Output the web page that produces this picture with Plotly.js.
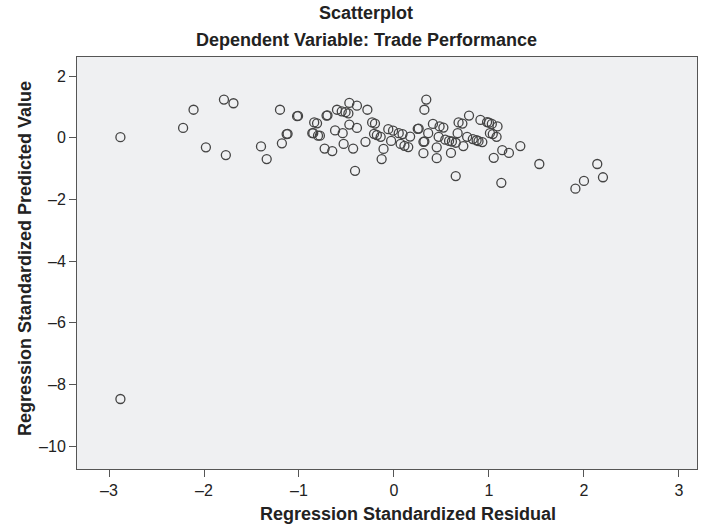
<!DOCTYPE html>
<html>
<head>
<meta charset="utf-8">
<script src="https://cdn.plot.ly/plotly-3.0.1.min.js"></script>
<style>html,body{margin:0;padding:0;background:#fff;}#chart{width:703px;height:526px;}</style>
</head>
<body>
<div id="chart"></div>
<script>
// Regression Standardized Residual (x) and Regression Standardized Predicted Value (y)
const residual = [
  -2.88, -2.22, -2.11, -1.98, -1.79, -1.69, -1.77, -1.40, -1.34, -1.20, -1.18, -1.13, -1.12,
  -1.02, -1.01, -0.85, -0.84, -0.81, -0.80, -0.71, -0.70, -0.86, -0.78, -0.73, -0.65, -0.62,
  -0.54, -0.53, -0.60, -0.55, -0.51, -0.48, -0.47, -0.39, -0.47, -0.39, -0.43, -0.41, -0.30,
  -0.28, -0.23, -0.20, -0.21, -0.18, -0.14, -0.11, -0.13, -0.06, -0.01, -0.03, 0.05, 0.09,
  0.07, 0.11, 0.15, 0.17, 0.25, 0.26, 0.31, 0.32, 0.31, 0.34, 0.32, 0.36, 0.41, 0.45, 0.45,
  0.47, 0.48, 0.52, 0.54, 0.58, 0.61, 0.65, 0.60, 0.65, 0.67, 0.68, 0.72, 0.73, 0.77, 0.79,
  0.83, 0.87, 0.89, 0.93, 0.91, 0.98, 1.00, 1.03, 1.09, 1.01, 1.04, 1.08, 1.05, 1.13, 1.14,
  1.21, 1.33, 1.53, 2.14, 2.20, 2.00, 1.91, -2.88
];
const predicted = [
  0.02, 0.32, 0.91, -0.31, 1.24, 1.12, -0.56, -0.28, -0.69, 0.91, -0.18, 0.12, 0.13,
  0.70, 0.71, 0.15, 0.50, 0.47, 0.07, 0.72, 0.73, 0.15, 0.07, -0.35, -0.43, 0.24,
  0.15, -0.20, 0.91, 0.86, 0.83, 0.79, 1.13, 1.04, 0.43, 0.32, -0.35, -1.07, -0.13,
  0.91, 0.50, 0.46, 0.13, 0.09, 0.03, -0.36, -0.69, 0.28, 0.23, -0.10, 0.15, 0.12,
  -0.20, -0.26, -0.30, 0.04, 0.29, 0.30, -0.13, -0.12, -0.50, 1.24, 0.91, 0.15, 0.45, -0.31, -0.66,
  0.03, 0.37, 0.33, -0.06, -0.10, -0.12, -0.16, -0.49, -1.24, 0.15, 0.50, 0.46, -0.27, 0.03, 0.72,
  -0.04, -0.08, -0.11, -0.14, 0.58, 0.51, 0.49, 0.45, 0.37, 0.15, 0.12, 0.03, -0.65, -1.46, -0.40,
  -0.49, -0.27, -0.85, -0.85, -1.28, -1.40, -1.65, -8.47
];
const xTicks = [-3, -2, -1, 0, 1, 2, 3];
const yTicks = [2, 0, -2, -4, -6, -8, -10];
const titleLines = ['Scatterplot', 'Dependent Variable: Trade Performance'];
const xTitle = 'Regression Standardized Residual';
const yTitle = 'Regression Standardized Predicted Value';

const FONT = '"Liberation Sans", Arial, sans-serif';
const axisCol = '#555555';
const txtCol = '#222222';
const fmt = v => v < 0 ? '\u2013' + Math.abs(v) : String(v);

Plotly.newPlot('chart', [{
  type: 'scatter',
  mode: 'markers',
  x: residual,
  y: predicted,
  marker: {symbol: 'circle-open', size: 9, color: '#444444', line: {width: 1.3, color: '#444444'}},
  hoverinfo: 'x+y'
}], {
  width: 703, height: 526,
  margin: {l: 77, r: 6, t: 57, b: 57, pad: 0},
  paper_bgcolor: '#ffffff',
  plot_bgcolor: '#eff0f2',
  showlegend: false,
  xaxis: {
    range: [-3.337, 3.19],
    tickvals: xTicks,
    ticktext: xTicks.map(fmt),
    ticks: 'outside', ticklen: 7, tickwidth: 1, tickcolor: axisCol,
    showgrid: false, zeroline: false,
    showline: true, linecolor: axisCol, linewidth: 1, mirror: true,
    tickfont: {family: FONT, size: 16, color: txtCol}
  },
  yaxis: {
    range: [-10.74, 2.62],
    tickvals: yTicks,
    ticktext: yTicks.map(fmt),
    ticks: 'outside', ticklen: 7, tickwidth: 1, tickcolor: axisCol,
    showgrid: false, zeroline: false,
    showline: true, linecolor: axisCol, linewidth: 1, mirror: true,
    tickfont: {family: FONT, size: 16, color: txtCol}
  },
  annotations: [
    {text: '<b>' + titleLines[0] + '</b>', xref: 'paper', yref: 'paper', x: (366 - 77) / 620, y: (469 - 13) / 412,
     xanchor: 'center', yanchor: 'middle', showarrow: false, font: {family: FONT, size: 18, color: txtCol}},
    {text: '<b>' + titleLines[1] + '</b>', xref: 'paper', yref: 'paper', x: (366 - 77) / 620, y: (469 - 40) / 412,
     xanchor: 'center', yanchor: 'middle', showarrow: false, font: {family: FONT, size: 18, color: txtCol}},
    {text: '<b>' + xTitle + '</b>', xref: 'paper', yref: 'paper', x: (408 - 77) / 620, y: (469 - 514) / 412,
     xanchor: 'center', yanchor: 'middle', showarrow: false, font: {family: FONT, size: 18, color: txtCol}},
    {text: '<b>' + yTitle + '</b>', xref: 'paper', yref: 'paper', x: (25 - 77) / 620, y: (469 - 259) / 412,
     xanchor: 'center', yanchor: 'middle', textangle: -90, showarrow: false, font: {family: FONT, size: 18, color: txtCol}}
  ]
}, {staticPlot: true});
</script>
</body>
</html>
